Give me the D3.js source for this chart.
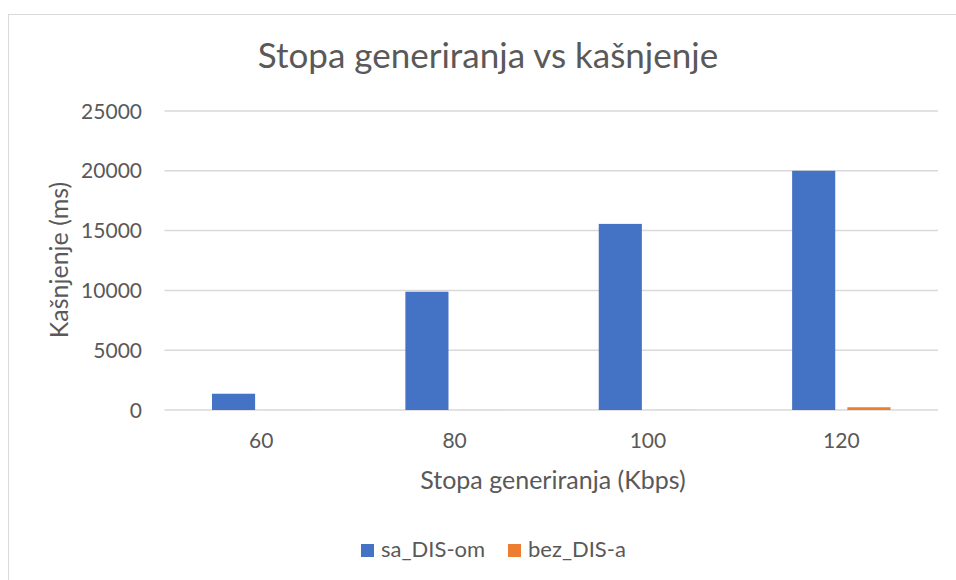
<!DOCTYPE html>
<html lang="en">

<head>
    <meta charset="UTF-8">
    <title>Stopa generiranja vs kašnjenje</title>
    <style>
        body {
            margin: 0;
            background: #fff;
        }

        svg text {
            font-family: Lato, "Open Sans", sans-serif;
            fill: #595959;
        }

        .grid line {
            stroke: #d9d9d9;
            stroke-width: 1.5;
        }
    </style>
</head>

<body>
    <script src="https://d3js.org/d3.v7.min.js"></script>
    <svg id="svg"></svg>
    <script>
        var categories = ["60", "80", "100", "120"];
        var seriesNames = ["sa_DIS-om", "bez_DIS-a"];
        var saDis = [1360, 9890, 15560, 20000];
        var bezDis = [3, 4, 6, 230];
        var yTicks = [0, 5000, 10000, 15000, 20000, 25000];
        var colors = ["#4472C4", "#ED7D31"];

        (function () {
            var w = 956,
                h = 580;

            var svg = d3.select("svg")
                .attr("width", w)
                .attr("height", h);

            // chart frame
            svg.append("rect")
                .attr("x", 8.5)
                .attr("y", 14.5)
                .attr("width", w)
                .attr("height", h)
                .attr("fill", "#fff")
                .attr("stroke", "#d9d9d9");

            var plotL = 164.5, plotR = 938, plotT = 111, plotB = 410;

            var x = d3.scaleBand()
                .domain(categories)
                .range([plotL, plotR]);

            var xInner = d3.scaleBand()
                .domain(seriesNames)
                .range([47.5, x.bandwidth() - 47.5])
                .paddingInner(0.22);

            var y = d3.scaleLinear()
                .domain([0, 25000])
                .range([plotB, plotT]);

            // gridlines + y labels
            var grid = svg.append("g").attr("class", "grid");
            grid.selectAll("line")
                .data(yTicks)
                .enter().append("line")
                .attr("x1", plotL)
                .attr("x2", plotR)
                .attr("y1", (d) => { return y(d); })
                .attr("y2", (d) => { return y(d); });

            svg.append("g").selectAll("text")
                .data(yTicks)
                .enter().append("text")
                .attr("x", 142)
                .attr("y", (d) => { return y(d); })
                .attr("dy", "0.36em")
                .attr("text-anchor", "end")
                .style("font-size", "21px")
                .text((d) => { return d; });

            // bars
            var table = categories.map(function (c, i) {
                return { cat: c, values: [saDis[i], bezDis[i]] };
            });

            var groups = svg.append("g").selectAll("g")
                .data(table)
                .enter().append("g")
                .attr("transform", (d) => { return "translate(" + x(d.cat) + ",0)"; });

            groups.selectAll("rect")
                .data((d) => {
                    return d.values.map(function (v, j) {
                        return { name: seriesNames[j], value: v, color: colors[j] };
                    });
                })
                .enter().append("rect")
                .attr("x", (d) => { return xInner(d.name); })
                .attr("width", xInner.bandwidth())
                .attr("y", (d) => { return y(d.value); })
                .attr("height", (d) => { return plotB - y(d.value); })
                .attr("fill", (d) => { return d.color; });

            // x labels
            svg.append("g").selectAll("text")
                .data(categories)
                .enter().append("text")
                .attr("x", (d) => { return x(d) + x.bandwidth() / 2; })
                .attr("y", 448)
                .attr("text-anchor", "middle")
                .style("font-size", "21px")
                .text((d) => { return d; });

            // titles
            svg.append("text")
                .attr("x", 488)
                .attr("y", 68)
                .attr("text-anchor", "middle")
                .style("font-size", "35px")
                .text("Stopa generiranja vs kašnjenje");

            svg.append("text")
                .attr("x", 553)
                .attr("y", 489)
                .attr("text-anchor", "middle")
                .style("font-size", "25px")
                .text("Stopa generiranja (Kbps)");

            svg.append("text")
                .attr("transform", "translate(68,260) rotate(-90)")
                .attr("text-anchor", "middle")
                .style("font-size", "25px")
                .text("Kašnjenje (ms)");

            // legend
            var legendX = [361, 508];
            var legend = svg.append("g").selectAll("g")
                .data(seriesNames)
                .enter().append("g")
                .attr("transform", (d, i) => { return "translate(" + legendX[i] + ",544)"; });

            legend.append("rect")
                .attr("width", 13)
                .attr("height", 13)
                .attr("fill", (d, i) => { return colors[i]; });

            legend.append("text")
                .attr("x", 20)
                .attr("y", 13)
                .style("font-size", "22px")
                .text((d) => { return d; });
        })();
    </script>
</body>

</html>
